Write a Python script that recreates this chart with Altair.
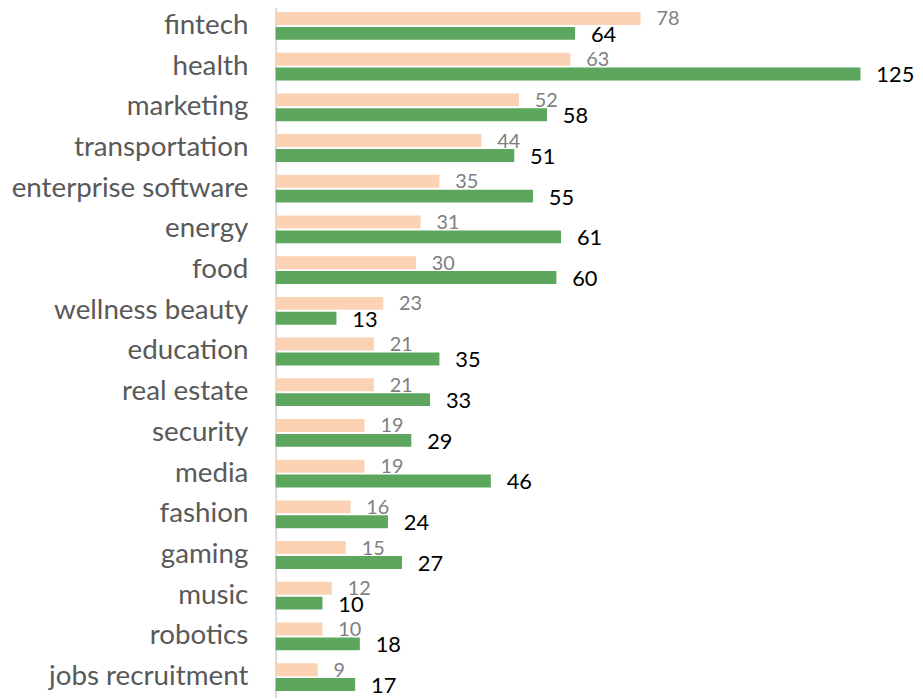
import altair as alt
import pandas as pd

categories = ["fintech", "health", "marketing", "transportation", "enterprise software",
              "energy", "food", "wellness beauty", "education", "real estate", "security",
              "media", "fashion", "gaming", "music", "robotics", "jobs recruitment"]
series1 = [78, 63, 52, 44, 35, 31, 30, 23, 21, 21, 19, 19, 16, 15, 12, 10, 9]
series2 = [64, 125, 58, 51, 55, 61, 60, 13, 35, 33, 29, 46, 24, 27, 10, 18, 17]
series_names = ["Series 1", "Series 2"]
colors = ["#FBD3B4", "#5DA65E"]

rows = []
for c, a, b in zip(categories, series1, series2):
    rows.append({"category": c, "series": series_names[0], "value": a})
    rows.append({"category": c, "series": series_names[1], "value": b})
df = pd.DataFrame(rows)

FONT = "Lato"

y_enc = alt.Y("category:N", sort=categories,
              scale=alt.Scale(paddingInner=0, paddingOuter=0),
              axis=alt.Axis(title=None, labelFontSize=28, labelColor="#595959",
                            labelFont=FONT, ticks=False, labelPadding=28, labelLimit=0,
                            domainColor="#D9D9D9", domainWidth=2, grid=False))
yoff = alt.YOffset("series:N", sort=series_names,
                   scale=alt.Scale(paddingInner=0.133, paddingOuter=0.433))
x_enc = alt.X("value:Q", scale=alt.Scale(domain=[0, 125], nice=False),
              axis=None)

base = alt.Chart(df).encode(y=y_enc, yOffset=yoff, x=x_enc)

bars = base.mark_bar().encode(
    color=alt.Color("series:N", sort=series_names,
                    scale=alt.Scale(domain=series_names, range=colors), legend=None)
)

t1 = base.transform_filter(alt.datum.series == series_names[0]).mark_text(
    align="left", baseline="middle", dx=16, dy=1, fontSize=20, color="#808080", font=FONT
).encode(text="value:Q")

t2 = base.transform_filter(alt.datum.series == series_names[1]).mark_text(
    align="left", baseline="middle", dx=16, dy=1.5, fontSize=22, color="#000000", font=FONT
).encode(text="value:Q")

chart = alt.layer(bars, t1, t2).properties(
    width=590, height=698,
    autosize=alt.AutoSizeParams(type="none"),
    padding={"left": 270, "top": -5.5, "right": 55, "bottom": -1.5},
).configure_view(stroke=None)

chart.save("out.html", embed_options={"renderer": "svg", "actions": False})
